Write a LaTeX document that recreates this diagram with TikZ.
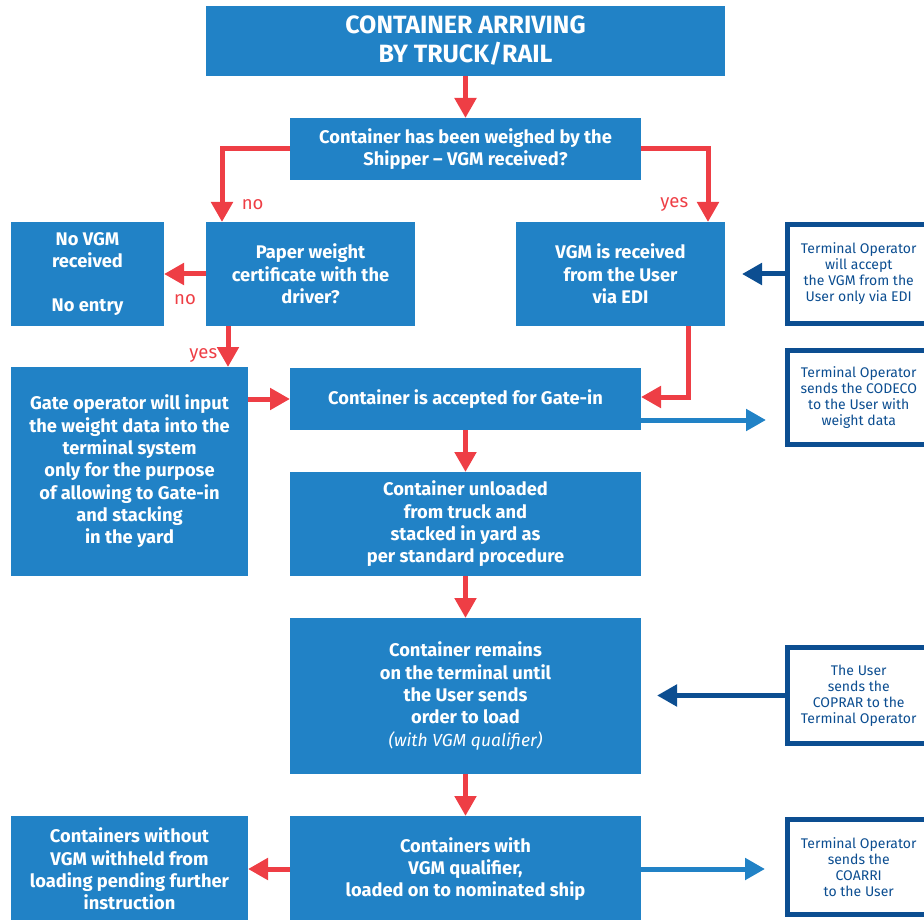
\documentclass[tikz,border=0pt]{standalone}
\usepackage{fontspec}
\setmainfont{Fira Sans}
\usetikzlibrary{arrows.meta,positioning}
\definecolor{boxblue}{RGB}{33,130,198}
\definecolor{linered}{RGB}{238,62,69}
\definecolor{noteblue}{RGB}{12,78,145}
\begin{document}
\begin{tikzpicture}[x=1pt,y=-1pt,
    box/.style={fill=boxblue,text=white,align=center,inner sep=0pt,outer sep=0pt,font=\bfseries\fontsize{18.3}{22.3}\selectfont},
    note/.style={draw=noteblue,line width=5pt,fill=white,text=noteblue,align=center,inner sep=0pt,minimum width=142.5pt,font=\fontsize{14}{16}\selectfont},
    yn/.style={text=linered,font=\fontsize{18.5}{20}\selectfont},
    go/.style={draw=linered,line width=5pt,-{Triangle[length=20pt,width=21pt]}},
    tell/.style={draw=boxblue,line width=5pt,-{Triangle[length=20pt,width=21pt]}},
    ask/.style={draw=noteblue,line width=5pt,-{Triangle[length=20pt,width=21pt]}}]
    \useasboundingbox (0,0) rectangle (924,920);
    % main column
    \node[box,minimum width=519pt,minimum height=70pt,font=\bfseries\fontsize{25}{29}\selectfont] (arrive) at (465.5,41) {CONTAINER ARRIVING\\BY TRUCK/RAIL};
    \node[box,minimum width=351pt,minimum height=62pt] (weighed) at (465.5,149) {Container has been weighed by the\\Shipper -- VGM received?};
    \node[box,minimum width=209pt,minimum height=104pt] (paper) at (310.5,274) {Paper weight\\certificate with the\\driver?};
    \node[box,minimum width=153pt,minimum height=104pt] (novgm) at (87.5,274) {No VGM\\received\\[22pt]No entry};
    \node[box,minimum width=209pt,minimum height=104pt] (viaedi) at (620.5,274) {VGM is received\\from the User\\via EDI};
    \node[box,minimum width=237pt,minimum height=209pt] (gateop) at (129.5,471.5) {Gate operator will input\\the weight data into the\\terminal system\\only for the purpose\\of allowing to Gate-in\\and stacking\\in the yard};
    \node[box,minimum width=351pt,minimum height=62pt] (gatein) at (465.5,399) {Container is accepted for Gate-in};
    \node[box,minimum width=351pt,minimum height=104pt] (unloaded) at (465.5,524) {Container unloaded\\from truck and\\stacked in yard as\\per standard procedure};
    \node[box,minimum width=351pt,minimum height=156pt] (remains) at (465.5,696) {Container remains\\on the terminal until\\the User sends\\order to load\\{\mdseries\itshape\fontsize{17.5}{22.3}\selectfont (with VGM qualifier)}};
    \node[box,minimum width=237pt,minimum height=106pt] (withheld) at (129.5,869) {Containers without\\VGM withheld from\\loading pending further\\instruction};
    \node[box,minimum width=351pt,minimum height=106pt] (loaded) at (465.5,869) {Containers with\\VGM qualifier,\\loaded on to nominated ship};
    % notes on the right
    \node[note,minimum height=99pt] (edionly) at (858.75,274) {Terminal Operator\\will accept\\the VGM from the\\User only via EDI};
    \node[note,minimum height=94pt] (codeco) at (858.75,397.5) {Terminal Operator\\sends the CODECO\\to the User with\\weight data};
    \node[note,minimum height=96pt] (coprar) at (858.75,695.5) {The User\\sends the\\COPRAR to the\\Terminal Operator};
    \node[note,minimum height=95pt] (coarri) at (858.75,867) {Terminal Operator\\sends the\\COARRI\\to the User};
    % flow
    \draw[go] (arrive) -- (weighed);
    \draw[go] (weighed.west) -| node[yn,pos=0.88,anchor=west,xshift=14pt] {no} ([xshift=16pt]paper.north west);
    \draw[go] (weighed.east) -| node[yn,pos=0.88,anchor=east,xshift=-14pt] {yes} ([xshift=-17pt]viaedi.north east);
    \draw[go] (paper) -- node[yn,below=15pt] {no} (novgm);
    \draw[go] ([xshift=22pt]paper.south west) -- node[yn,left=5pt,yshift=-9pt] {yes} ([xshift=22pt]paper.south west |- gateop.north);
    \draw[go] (gateop.east |- gatein) -- (gatein);
    \draw[go] ([xshift=-37pt]viaedi.south east) |- ([yshift=2pt]gatein.east);
    \draw[go] (gatein) -- (unloaded);
    \draw[go] (unloaded) -- (remains);
    \draw[go] (remains) -- (loaded);
    \draw[go] (loaded) -- (withheld);
    % messages
    \draw[ask,shorten >=17pt] (edionly) -- (edionly -| viaedi.east);
    \draw[tell,shorten >=19pt] ([yshift=10pt]gatein.south east) -- ([yshift=10pt]gatein.south east -| codeco.west);
    \draw[ask,shorten >=16pt] (coprar) -- (coprar -| remains.east);
    \draw[tell,shorten >=20pt] (loaded) -- (loaded -| coarri.west);
\end{tikzpicture}
\end{document}
